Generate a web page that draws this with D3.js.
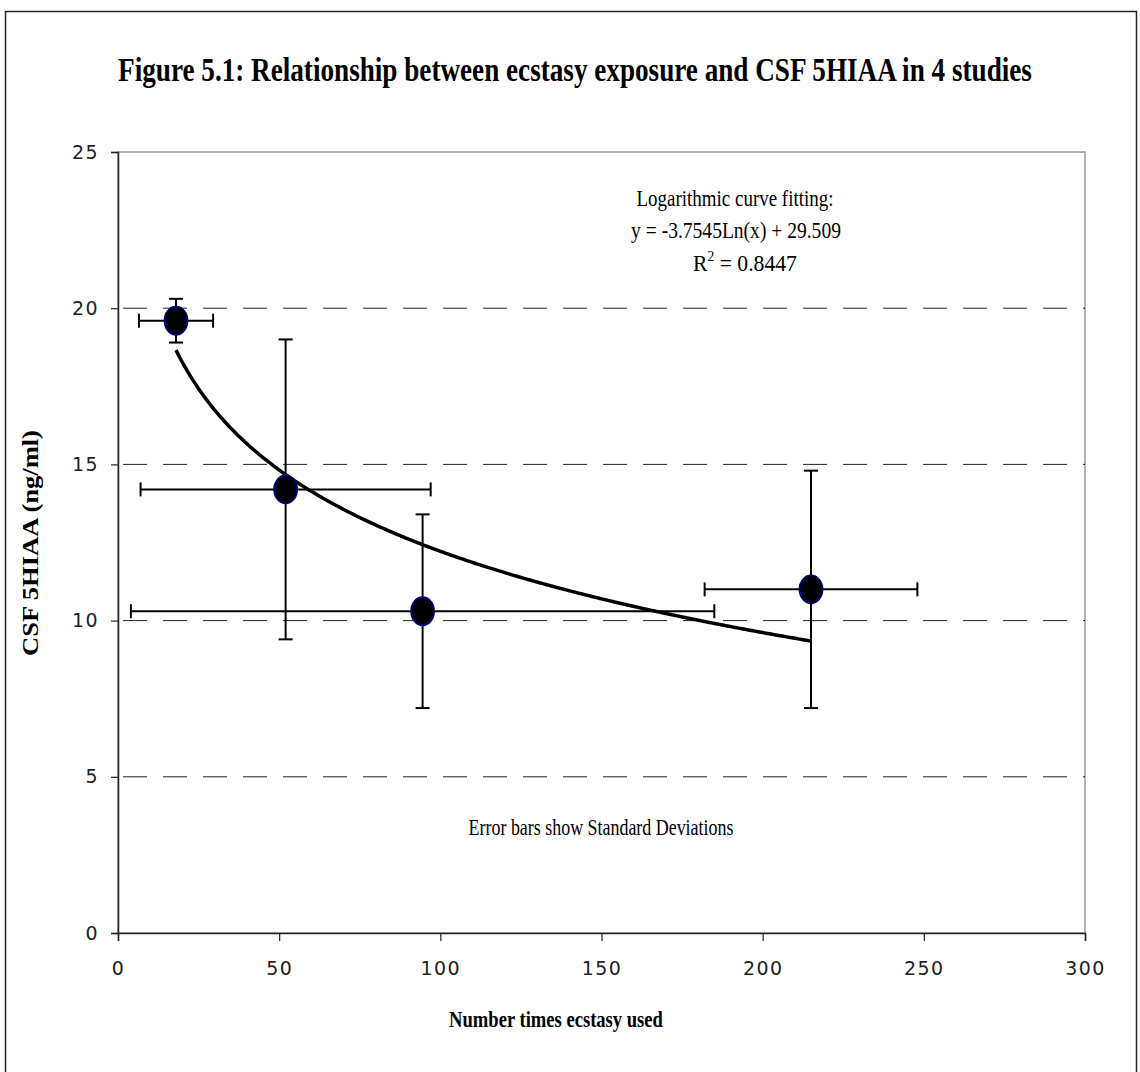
<!DOCTYPE html>
<html>
<head>
<meta charset="utf-8">
<script src="https://cdn.jsdelivr.net/npm/d3@7"></script>
<style>
  html, body { margin: 0; padding: 0; background: #fff; }
  svg { display: block; }
</style>
</head>
<body>
<svg id="chart" width="1140" height="1072"></svg>
<script>
// Four studies: mean ecstasy exposure vs. mean CSF 5HIAA, with SDs
const studies   = ["Study 1", "Study 2", "Study 3", "Study 4"];
const timesUsed = [18, 52, 94.5, 215];
const timesSD   = [11.5, 45, 90.5, 33];
const csf5hiaa  = [19.6, 14.2, 10.3, 11.0];
const csfSD     = [0.7, 4.8, 3.1, 3.8];

// Logarithmic fit y = a*ln(x) + b
const fitA = -3.7545;
const fitB = 29.509;
const fitR2 = 0.8447;

const xTicks = [0, 50, 100, 150, 200, 250, 300];
const yTicks = [0, 5, 10, 15, 20, 25];
const gridValues = [5, 10, 15, 20];

const svg = d3.select("#chart");
const plot = { left: 118, top: 152, right: 1085, bottom: 933 };

const x = d3.scaleLinear().domain([0, 300]).range([plot.left, plot.right]);
const y = d3.scaleLinear().domain([0, 25]).range([plot.bottom, plot.top]);

const serif = "'Liberation Serif', 'Times New Roman', serif";
const tickFont = "'DejaVu Sans', sans-serif";

// Narrow serif text: draw at full size, then squeeze horizontally to a given width.
function condensedText(parent, cx, cy, width, size, bold, rotate) {
  const g = parent.append("g")
    .attr("transform", `translate(${cx},${cy})` + (rotate ? ` rotate(${rotate})` : ""));
  const t = g.append("text")
    .attr("text-anchor", "middle")
    .attr("font-family", serif)
    .attr("font-size", size)
    .attr("font-weight", bold ? "bold" : "normal")
    .attr("fill", "#000");
  return {
    text: t,
    fit() {
      const w = t.node().getComputedTextLength();
      t.attr("transform", `scale(${width / w},1)`);
    }
  };
}

// outer frame
svg.append("rect")
  .attr("x", 5.5).attr("y", 11.5)
  .attr("width", 1131).attr("height", 1100)
  .attr("fill", "none").attr("stroke", "#222").attr("stroke-width", 1.5);

// title
const title = condensedText(svg, 575, 81, 914, 34, true);
title.text.text("Figure 5.1: Relationship between ecstasy exposure and CSF 5HIAA in 4 studies");
title.fit();

// plot area frame (top and right edges are grey)
svg.append("rect")
  .attr("x", plot.left).attr("y", plot.top)
  .attr("width", plot.right - plot.left).attr("height", plot.bottom - plot.top)
  .attr("fill", "none").attr("stroke", "#999").attr("stroke-width", 1.5);

// dashed horizontal gridlines
svg.append("g").selectAll("line").data(gridValues).join("line")
  .attr("x1", plot.left).attr("x2", plot.right)
  .attr("y1", d => y(d)).attr("y2", d => y(d))
  .attr("stroke", "#222").attr("stroke-width", 1)
  .attr("stroke-dasharray", "24,16")
  .attr("stroke-dashoffset", -5);

// axes
const xAxis = svg.append("g")
  .attr("transform", `translate(0,${plot.bottom})`)
  .call(d3.axisBottom(x).tickValues(xTicks).tickSize(8).tickPadding(21).tickFormat(d3.format("d")));
const yAxis = svg.append("g")
  .attr("transform", `translate(${plot.left},0)`)
  .call(d3.axisLeft(y).tickValues(yTicks).tickSize(7).tickPadding(12).tickFormat(d3.format("d")));

[xAxis, yAxis].forEach(g => {
  g.select(".domain").attr("stroke", "#222").attr("stroke-width", 1.5);
  g.selectAll(".tick line").attr("stroke", "#222").attr("stroke-width", 1.2);
  g.selectAll(".tick text")
    .attr("font-family", tickFont).attr("font-size", 19)
    .attr("letter-spacing", 1.4)
    .attr("fill", "#222");
});
xAxis.selectAll(".tick text").attr("dy", "0.71em");

// axis titles
const xTitle = condensedText(svg, 556, 1027, 214, 24, true);
xTitle.text.text("Number times ecstasy used");
xTitle.fit();

const yTitle = condensedText(svg, 38, 543, 226, 23, true, -90);
yTitle.text.text("CSF 5HIAA (ng/ml)");
yTitle.fit();

// fitted curve over the range of the data
const xs = d3.range(timesUsed[0], timesUsed[3] + 0.01, 0.5);
const line = d3.line()
  .x(d => x(d))
  .y(d => y(fitA * Math.log(d) + fitB));
svg.append("path")
  .datum(xs)
  .attr("d", line)
  .attr("fill", "none").attr("stroke", "#000").attr("stroke-width", 3.5);

// error bars
const data = studies.map((s, i) => ({
  name: s, x: timesUsed[i], xsd: timesSD[i], y: csf5hiaa[i], ysd: csfSD[i]
}));
const cap = 7;
const eb = svg.append("g").attr("stroke", "#000").attr("stroke-width", 2);
data.forEach(d => {
  const cx = x(d.x), cy = y(d.y);
  const x0 = x(d.x - d.xsd), x1 = x(d.x + d.xsd);
  const y0 = y(d.y - d.ysd), y1 = y(d.y + d.ysd);
  eb.append("line").attr("x1", x0).attr("x2", x1).attr("y1", cy).attr("y2", cy);
  eb.append("line").attr("x1", x0).attr("x2", x0).attr("y1", cy - cap).attr("y2", cy + cap);
  eb.append("line").attr("x1", x1).attr("x2", x1).attr("y1", cy - cap).attr("y2", cy + cap);
  eb.append("line").attr("x1", cx).attr("x2", cx).attr("y1", y0).attr("y2", y1);
  eb.append("line").attr("x1", cx - cap).attr("x2", cx + cap).attr("y1", y0).attr("y2", y0);
  eb.append("line").attr("x1", cx - cap).attr("x2", cx + cap).attr("y1", y1).attr("y2", y1);
});

// markers
svg.append("g").selectAll("ellipse").data(data).join("ellipse")
  .attr("cx", d => x(d.x)).attr("cy", d => y(d.y))
  .attr("rx", 11.5).attr("ry", 14)
  .attr("fill", "#000").attr("stroke", "#000080").attr("stroke-width", 1.8);

// annotations
const fitLabel = condensedText(svg, 735, 206, 197, 24, false);
fitLabel.text.text("Logarithmic curve fitting:");
fitLabel.fit();

const eqLabel = condensedText(svg, 736, 238, 210, 24, false);
eqLabel.text.text(`y = ${fitA}Ln(x) + ${fitB}`);
eqLabel.fit();

const r2Label = condensedText(svg, 745, 271, 104, 24, false);
r2Label.text.append("tspan").text("R");
r2Label.text.append("tspan").attr("font-size", 15).attr("dy", -10).text("2");
r2Label.text.append("tspan").attr("dy", 10).text(` = ${fitR2}`);
r2Label.fit();

const sdNote = condensedText(svg, 601, 835, 265, 24, false);
sdNote.text.text("Error bars show Standard Deviations");
sdNote.fit();
</script>
</body>
</html>
